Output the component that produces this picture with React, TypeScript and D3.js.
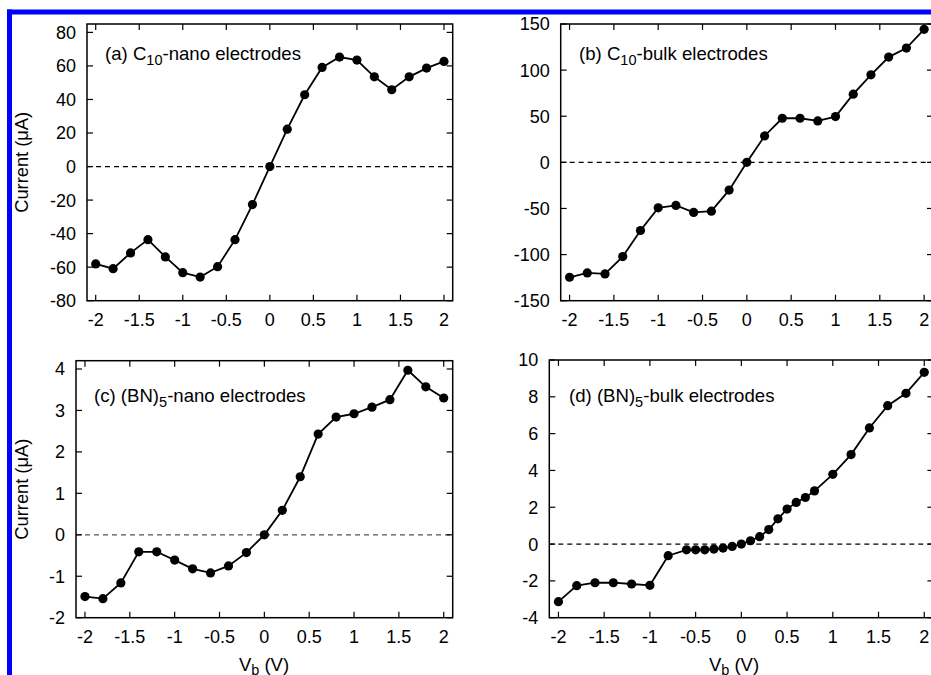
import React from "react";
import * as d3 from "d3";

// ---------- data ----------
const vbA = [-2, -1.8, -1.6, -1.4, -1.2, -1.0, -0.8, -0.6, -0.4, -0.2, 0, 0.2, 0.4, 0.6, 0.8, 1.0, 1.2, 1.4, 1.6, 1.8, 2.0];
const currentA = [-58.1, -60.9, -51.5, -43.6, -53.9, -63.3, -65.9, -59.7, -43.6, -22.7, 0, 22.3, 42.8, 59.1, 65.3, 63.5, 53.5, 45.8, 53.5, 58.7, 62.7];
const currentB = [-124.6, -119.9, -121, -102.2, -73.9, -49.3, -46.7, -54.3, -52.9, -30.1, 0, 28.6, 47.8, 47.8, 44.9, 49.6, 73.9, 94.9, 114.1, 123.9, 144.2];
const currentC = [-1.49, -1.54, -1.16, -0.41, -0.41, -0.61, -0.82, -0.92, -0.75, -0.43, 0, 0.59, 1.40, 2.43, 2.84, 2.92, 3.08, 3.26, 3.97, 3.57, 3.30];
const vbD = [-2, -1.8, -1.6, -1.4, -1.2, -1.0, -0.8, -0.6, -0.5, -0.4, -0.3, -0.2, -0.1, 0, 0.1, 0.2, 0.3, 0.4, 0.5, 0.6, 0.7, 0.8, 1.0, 1.2, 1.4, 1.6, 1.8, 2.0];
const currentD = [-3.13, -2.26, -2.10, -2.10, -2.17, -2.24, -0.63, -0.31, -0.31, -0.31, -0.27, -0.22, -0.13, 0, 0.18, 0.40, 0.79, 1.37, 1.90, 2.26, 2.53, 2.89, 3.79, 4.86, 6.31, 7.52, 8.19, 9.33];

const xTicks = [-2, -1.5, -1, -0.5, 0, 0.5, 1, 1.5, 2];
const yTicksA = [-80, -60, -40, -20, 0, 20, 40, 60, 80];
const yTicksB = [-150, -100, -50, 0, 50, 100, 150];
const yTicksC = [-2, -1, 0, 1, 2, 3, 4];
const yTicksD = [-4, -2, 0, 2, 4, 6, 8, 10];

const labelA = { pre: "(a) C", sub: "10", post: "-nano electrodes" };
const labelB = { pre: "(b) C", sub: "10", post: "-bulk electrodes" };
const labelC = { pre: "(c) (BN)", sub: "5", post: "-nano electrodes" };
const labelD = { pre: "(d) (BN)", sub: "5", post: "-bulk electrodes" };

const FONT = "'Liberation Sans', Arial, Helvetica, sans-serif";

type PanelProps = {
  xs: number[];
  ys: number[];
  yTicks: number[];
  yDomain: [number, number];
  left: number;
  right: number;
  top: number;
  bottom: number;
  label: { pre: string; sub: string; post: string };
  labelX: number;
  labelY: number;
  zeroColor: string;
  yTitle?: boolean;
  xTitle?: number | null;
};

function Panel(p: PanelProps) {
  const x = d3.scaleLinear().domain([-2.1, 2.1]).range([p.left, p.right]);
  const y = d3.scaleLinear().domain(p.yDomain).range([p.bottom, p.top]);
  const pts: [number, number][] = p.xs.map((v, i) => [v, p.ys[i]]);
  const line = d3
    .line<[number, number]>()
    .x((d) => x(d[0]))
    .y((d) => y(d[1]));
  const tl = 6;
  return (
    <g>
      {/* zero line */}
      <line
        x1={p.left}
        x2={p.right}
        y1={y(0)}
        y2={y(0)}
        stroke={p.zeroColor}
        strokeWidth={1.3}
        strokeDasharray="5,4"
      />
      {/* ticks */}
      {xTicks.map((t) => (
        <g key={"xt" + t}>
          <line x1={x(t)} x2={x(t)} y1={p.bottom} y2={p.bottom - tl} stroke="#000" strokeWidth={1.2} />
          <line x1={x(t)} x2={x(t)} y1={p.top} y2={p.top + tl} stroke="#000" strokeWidth={1.2} />
          <text
            x={x(t)}
            y={p.bottom + 25.5}
            textAnchor="middle"
            fontSize={18}
            fontFamily={FONT}
            fill="#000"
          >
            {String(t)}
          </text>
        </g>
      ))}
      {p.yTicks.map((t) => (
        <g key={"yt" + t}>
          <line x1={p.left} x2={p.left + tl} y1={y(t)} y2={y(t)} stroke="#000" strokeWidth={1.2} />
          <line x1={p.right} x2={p.right - tl} y1={y(t)} y2={y(t)} stroke="#000" strokeWidth={1.2} />
          <text
            x={p.left - 11}
            y={y(t)}
            dy="0.36em"
            textAnchor="end"
            fontSize={18}
            fontFamily={FONT}
            fill="#000"
          >
            {String(t)}
          </text>
        </g>
      ))}
      {/* frame */}
      <rect
        x={p.left}
        y={p.top}
        width={p.right - p.left}
        height={p.bottom - p.top}
        fill="none"
        stroke="#000"
        strokeWidth={1.5}
      />
      {/* data */}
      <path d={line(pts) || ""} fill="none" stroke="#000" strokeWidth={1.8} />
      {pts.map((d, i) => (
        <circle key={i} cx={x(d[0])} cy={y(d[1])} r={4.6} fill="#000" />
      ))}
      {/* label */}
      <text x={p.labelX} y={p.labelY} fontSize={18.6} fontFamily={FONT} fill="#000">
        {p.label.pre}
        <tspan dy={5} fontSize={14.5}>
          {p.label.sub}
        </tspan>
        <tspan dy={-5}>{p.label.post}</tspan>
      </text>
      {p.yTitle && (
        <text
          transform={`translate(28,${(p.top + p.bottom) / 2}) rotate(-90)`}
          textAnchor="middle"
          fontSize={18.3}
          fontFamily={FONT}
          fill="#000"
        >
          Current (μA)
        </text>
      )}
      {p.xTitle != null && (
        <text x={p.xTitle} y={p.bottom + 53.5} textAnchor="middle" fontSize={18.5} fontFamily={FONT} fill="#000">
          V
          <tspan dy={4} fontSize={14.5}>
            b
          </tspan>
          <tspan dy={-4}> (V)</tspan>
        </text>
      )}
    </g>
  );
}

export default function App() {
  return (
    <svg
      width={931}
      height={675}
      style={{ position: "absolute", left: 0, top: 0, background: "#fff" }}
    >
      <rect x={0} y={0} width={931} height={675} fill="#fff" />
      {/* blue border */}
      <rect x={7} y={9.5} width={924} height={5} fill="#0000ff" />
      <rect x={7} y={9.5} width={5} height={666} fill="#0000ff" />
      <Panel
        xs={vbA}
        ys={currentA}
        yTicks={yTicksA}
        yDomain={[-80, 85]}
        left={87}
        right={452.7}
        top={24}
        bottom={300.7}
        label={labelA}
        labelX={105}
        labelY={60}
        zeroColor="#000"
        yTitle
        xTitle={null}
      />
      <Panel
        xs={vbA}
        ys={currentB}
        yTicks={yTicksB}
        yDomain={[-150, 150]}
        left={560.7}
        right={933}
        top={24}
        bottom={300.7}
        label={labelB}
        labelX={579}
        labelY={60}
        zeroColor="#000"
        xTitle={null}
      />
      <Panel
        xs={vbA}
        ys={currentC}
        yTicks={yTicksC}
        yDomain={[-2, 4.2]}
        left={76}
        right={452.7}
        top={360.7}
        bottom={617.7}
        label={labelC}
        labelX={94}
        labelY={402}
        zeroColor="#555"
        yTitle
        xTitle={264}
      />
      <Panel
        xs={vbD}
        ys={currentD}
        yTicks={yTicksD}
        yDomain={[-4, 10]}
        left={549.3}
        right={933.4}
        top={360}
        bottom={617.7}
        label={labelD}
        labelX={569}
        labelY={402}
        zeroColor="#000"
        xTitle={734}
      />
    </svg>
  );
}
